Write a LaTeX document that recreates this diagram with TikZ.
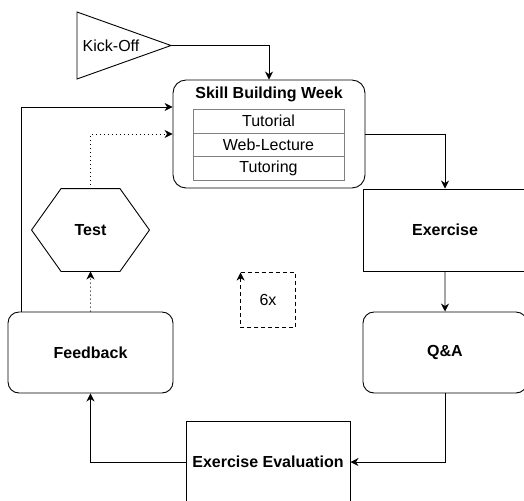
\documentclass[tikz,border=0pt]{standalone}
\usepackage{fontspec}
\setmainfont{Liberation Sans}
\usetikzlibrary{arrows.meta,calc}

\newcommand{\flowfont}{\fontsize{16}{19}\selectfont}

\begin{document}
\begin{tikzpicture}[scale=0.3515, line width=0.9pt,
  >={Stealth[length=8pt,width=8pt,inset=2.5pt]},
  box/.style={draw, minimum width=164pt, minimum height=82pt, font=\flowfont\bfseries},
  roundbox/.style={box, rounded corners=11pt},
  tablerow/.style={draw=gray, line width=0.8pt, minimum width=151pt, minimum height=23.5pt},
  dots/.style={dash pattern=on 1pt off 3pt}]
\tikzstyle{every node}+=[inner sep=0pt, font=\flowfont]
\clip (0,0) rectangle (52.4,-50);

% kick-off triangle
\draw (7.7,-1.2) -- (17.1,-4.55) -- (7.7,-7.9) -- cycle;
\node (kick) at (11.1,-4.55) {Kick-Off};
\coordinate (kickapex) at (17.1,-4.55);

% skill building week
\node [draw, rounded corners=13pt, minimum width=192pt, minimum height=108pt] (skill) at (26.9,-13.4) {};
\node [font=\flowfont\bfseries] (skilltitle) at (26.9,-9.45) {Skill Building Week};
\node [tablerow] (tutorial) at (26.85,-12.125) {Tutorial};
\node [tablerow] (weblecture) at (26.85,-14.475) {Web-Lecture};
\node [tablerow] (tutoring) at (26.85,-16.825) {Tutoring};

\node [box] (exercise) at (44.5,-23.0) {Exercise};
\node [roundbox, minimum height=81pt] (qa) at (44.5,-35.25) {Q\&A};
\node [box] (evaluation) at (26.8,-46.2) {Exercise Evaluation};
\node [roundbox, minimum width=165pt, minimum height=81pt] (feedback) at (9.05,-35.25) {Feedback};

% test hexagon
\node [minimum width=117pt, minimum height=82pt, font=\flowfont\bfseries] (test) at (9.05,-23.0) {Test};
\draw (test.west) -- ($(test.north west)+(2.95,0)$) -- ($(test.north east)-(2.95,0)$)
  -- (test.east) -- ($(test.south east)-(2.95,0)$) -- ($(test.south west)+(2.95,0)$) -- cycle;

% repetition marker
\node [minimum size=54pt] (repeat) at (26.8,-30.0) {6x};
\draw [->, dash pattern=on 4pt off 3pt] (repeat.north west) -- (repeat.north east)
  -- (repeat.south east) -- (repeat.south west) -- (repeat.north west);

% connectors
\draw [->] (kickapex) -| (skill.north);
\draw [->] (skill.east) -| (exercise.north);
\draw [->] (exercise) -- (qa);
\draw [->] (qa.south) |- (evaluation.east);
\draw [->] (evaluation.west) -| (feedback.south);
\draw [->, dots] (feedback) -- (test);
\draw [->, dots] (test.north) |- (skill.west);
\draw [->] ($(feedback.north west)+(1.4,0)$) |- ($(skill.west)+(0,2.7)$);
\end{tikzpicture}
\end{document}
